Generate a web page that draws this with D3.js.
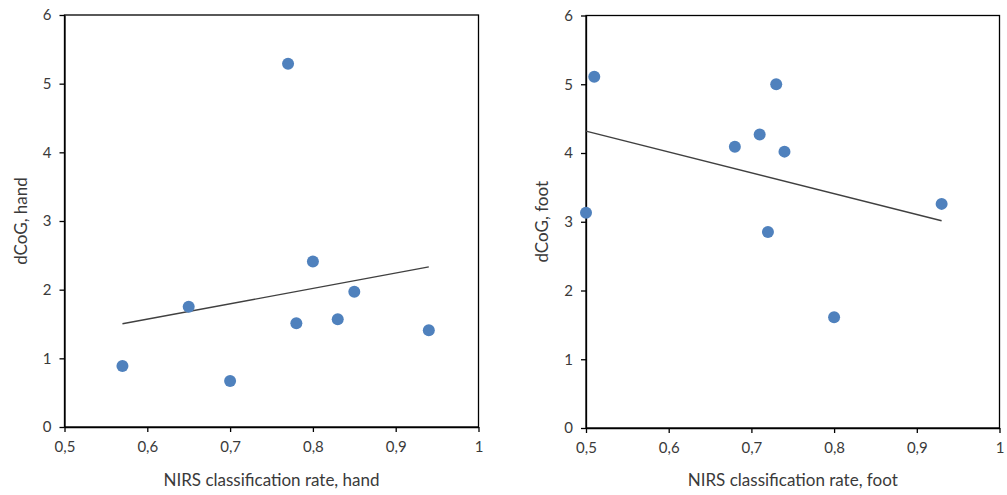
<!DOCTYPE html>
<html>
<head>
<meta charset="utf-8">
<script src="https://cdn.jsdelivr.net/npm/d3@7"></script>
<style>
  body { margin: 0; background: #fff; }
  svg { display: block; }
  text { font-family: Lato, "Open Sans", sans-serif; fill: #3a3a3a; }
</style>
</head>
<body>
<div id="chart"></div>
<script>
// data
const handX = [0.57, 0.65, 0.70, 0.77, 0.78, 0.80, 0.83, 0.85, 0.94];
const handY = [0.89, 1.75, 0.67, 5.29, 1.51, 2.41, 1.57, 1.97, 1.41];
const footX = [0.50, 0.51, 0.68, 0.71, 0.72, 0.73, 0.74, 0.80, 0.93];
const footY = [3.13, 5.11, 4.09, 4.27, 2.85, 5.00, 4.02, 1.61, 3.26];
const xTicks = [0.5, 0.6, 0.7, 0.8, 0.9, 1];
const yTicks = [0, 1, 2, 3, 4, 5, 6];

const W = 1007, H = 495;
const svg = d3.select('#chart').append('svg').attr('width', W).attr('height', H);

const fmt = d => String(d).replace('.', ',');

function linReg(xs, ys) {
    const mx = d3.mean(xs), my = d3.mean(ys);
    const num = d3.sum(xs, (x, i) => (x - mx) * (ys[i] - my));
    const den = d3.sum(xs, x => (x - mx) * (x - mx));
    const b = num / den;
    return x => my + b * (x - mx);
}

function panel(left, right, top, bottom, xs, ys, xTitle, yTitle, yTitleX) {
    const x = d3.scaleLinear().domain([0.5, 1]).range([left, right]);
    const y = d3.scaleLinear().domain([0, 6]).range([bottom, top]);
    const g = svg.append('g');

    // frame
    g.append('rect')
        .attr('x', left).attr('y', top)
        .attr('width', right - left).attr('height', bottom - top)
        .attr('fill', 'none').attr('stroke', '#000').attr('stroke-width', 1.3);

    const xa = g.append('g').attr('transform', `translate(0,${bottom})`)
        .call(d3.axisBottom(x).tickValues(xTicks).tickFormat(fmt).tickSize(5).tickSizeOuter(0).tickPadding(9));
    const ya = g.append('g').attr('transform', `translate(${left},0)`)
        .call(d3.axisLeft(y).tickValues(yTicks).tickFormat(d3.format('d')).tickSize(5).tickSizeOuter(0).tickPadding(8));
    [xa, ya].forEach(a => {
        a.select('.domain').attr('stroke', '#000').attr('stroke-width', 1.3);
        a.selectAll('.tick line').attr('stroke', '#000').attr('stroke-width', 1.3);
        a.selectAll('text').style('font-size', '15px').attr('fill', '#3a3a3a');
    });

    // trend line
    const f = linReg(xs, ys);
    const ext = d3.extent(xs);
    g.append('line')
        .attr('x1', x(ext[0])).attr('y1', y(f(ext[0])))
        .attr('x2', x(ext[1])).attr('y2', y(f(ext[1])))
        .attr('stroke', '#404040').attr('stroke-width', 1.4);

    g.selectAll('circle').data(xs).enter().append('circle')
        .attr('cx', d => x(d))
        .attr('cy', (d, i) => y(ys[i]))
        .attr('r', 6)
        .attr('fill', '#4f81bd');

    g.append('text')
        .attr('x', (left + right) / 2).attr('y', 486)
        .attr('text-anchor', 'middle')
        .style('font-size', '17px')
        .text(xTitle);
    g.append('text')
        .attr('transform', `translate(${yTitleX},${(top + bottom) / 2}) rotate(-90)`)
        .attr('text-anchor', 'middle')
        .style('font-size', '17px')
        .text(yTitle);
}

panel(64.5, 478.5, 15, 427, handX, handY, 'NIRS classification rate, hand', 'dCoG, hand', 27);
panel(586, 999.5, 15.5, 428, footX, footY, 'NIRS classification rate, foot', 'dCoG, foot', 548);
</script>
</body>
</html>
